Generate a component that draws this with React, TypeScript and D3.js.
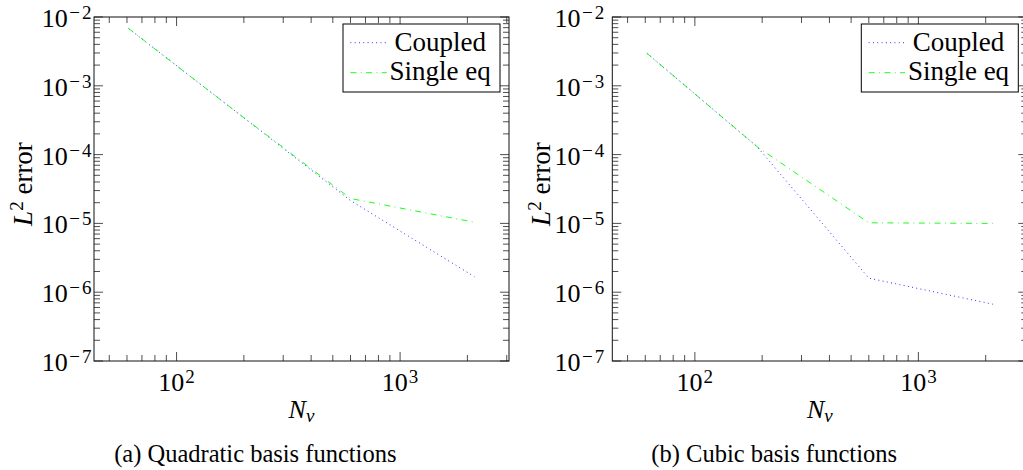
import React from "react";
import * as d3 from "d3";

// ---- data ----
const nv = [61, 190, 600, 2150];
const quadCoupled = [6.8e-3, 3.9e-4, 2.15e-5, 1.68e-6];
const quadSingle = [6.8e-3, 3.9e-4, 2.3e-5, 1.04e-5];
const cubicCoupled = [2.97e-3, 1.3e-4, 1.6e-6, 6.7e-7];
const cubicSingle = [2.97e-3, 1.3e-4, 1.02e-5, 1.0e-5];
const seriesNames = ["Coupled", "Single eq"];
const yTickExps = [-2, -3, -4, -5, -6, -7];
const xTickExps = [2, 3];
const captions = ["(a) Quadratic basis functions", "(b) Cubic basis functions"];
const yDomain = [1e-7, 1e-2];

const FONT = '"Liberation Serif"';

const W = 415;
const TOP = 17;
const BOTTOM = 361;

function logExtent(xs: number[]) {
  const lo = Math.log10(d3.min(xs)!);
  const hi = Math.log10(d3.max(xs)!);
  const e = (hi - lo) * 0.1;
  return [Math.pow(10, lo - e), Math.pow(10, hi + e)];
}

function Plot({ x0, coupled, single, caption, captionX, labelGap }: any) {
  const x1 = x0 + W;
  const xs = d3.scaleLog().domain(logExtent(nv)).range([x0, x1]);
  const ys = d3.scaleLog().domain(yDomain).range([BOTTOM, TOP]);
  const [dx0, dx1] = xs.domain();

  const xMinor: number[] = [];
  for (let k = 0; k <= 4; k++) {
    for (let m = 1; m <= 9; m++) {
      const v = m * Math.pow(10, k);
      if (v >= dx0 && v <= dx1) xMinor.push(v);
    }
  }
  const yMinor: number[] = [];
  for (let k = -7; k <= -3; k++) {
    for (let m = 2; m <= 9; m++) yMinor.push(m * Math.pow(10, k));
  }

  const line = d3
    .line<number>()
    .x((_, i) => xs(nv[i]))
    .y((d) => ys(d));

  const tickStroke = "#222";
  const legW = 157;
  const legX = x1 - 9 - legW;
  const legY = 24;
  const legH = 68;
  const fs = { fontFamily: FONT };

  return (
    <g>
      {/* data lines */}
      <path d={line(coupled)!} fill="none" stroke="#0000ff" strokeWidth={0.9} strokeDasharray="0.9 3.4" />
      <path d={line(single)!} fill="none" stroke="#00ff00" strokeWidth={0.9} strokeDasharray="6 4.4 0.9 4.4" />

      {/* x ticks */}
      {xMinor.map((v, i) => {
        const isMajor = Math.abs(Math.log10(v) - Math.round(Math.log10(v))) < 1e-9;
        const L = isMajor ? 9 : 6;
        const x = xs(v);
        return (
          <g key={"xm" + i}>
            <line x1={x} x2={x} y1={BOTTOM} y2={BOTTOM - L} stroke={tickStroke} strokeWidth={0.8} />
            <line x1={x} x2={x} y1={TOP} y2={TOP + L} stroke={tickStroke} strokeWidth={0.8} />
          </g>
        );
      })}
      {/* y ticks */}
      {yMinor.map((v, i) => {
        const y = ys(v);
        return (
          <g key={"ym" + i}>
            <line x1={x0} x2={x0 + 6} y1={y} y2={y} stroke={tickStroke} strokeWidth={0.8} />
            <line x1={x1} x2={x1 - 6} y1={y} y2={y} stroke={tickStroke} strokeWidth={0.8} />
          </g>
        );
      })}
      {yTickExps.map((e) => {
        const y = ys(Math.pow(10, e));
        return (
          <g key={"yM" + e}>
            <line x1={x0} x2={x0 + 9} y1={y} y2={y} stroke={tickStroke} strokeWidth={0.8} />
            <line x1={x1} x2={x1 - 9} y1={y} y2={y} stroke={tickStroke} strokeWidth={0.8} />
            <text x={x0 - labelGap} y={y + 10} textAnchor="end" style={fs} fontSize={26} fill="#000">
              10
              <tspan dy={-8} dx={1.5} fontSize={19}>
                {"\u2212"}
              </tspan>
              <tspan dx={2} fontSize={19}>
                {String(Math.abs(e))}
              </tspan>
            </text>
          </g>
        );
      })}
      {xTickExps.map((e) => {
        const x = xs(Math.pow(10, e));
        return (
          <text key={"xl" + e} x={x} y={BOTTOM + 30} textAnchor="middle" style={fs} fontSize={26} fill="#000">
            10
            <tspan dy={-8} dx={1} fontSize={19}>
              {String(e)}
            </tspan>
          </text>
        );
      })}

      {/* frame */}
      <rect x={x0} y={TOP} width={W} height={BOTTOM - TOP} fill="none" stroke="#111" strokeWidth={1} />

      {/* axis labels */}
      <text x={(x0 + x1) / 2} y={418} textAnchor="middle" style={fs} fontSize={26} fill="#000">
        <tspan fontStyle="italic">N</tspan>
        <tspan fontStyle="italic" fontSize={19} dy={4}>
          v
        </tspan>
      </text>
      <text
        transform={`translate(${x0 - 62.5},${(TOP + BOTTOM) / 2 - 5}) rotate(-90)`}
        textAnchor="middle"
        style={fs}
        fontSize={27}
        fill="#000"
      >
        <tspan fontStyle="italic">L</tspan>
        <tspan fontSize={19} dy={-9}>
          2
        </tspan>
        <tspan dy={9}> error</tspan>
      </text>

      {/* legend */}
      <rect x={legX} y={legY} width={legW} height={legH} fill="#fff" stroke="#000" strokeWidth={1} />
      <line x1={legX + 7.4} x2={legX + 43.7} y1={legY + 18.7} y2={legY + 18.7} stroke="#0000ff" strokeWidth={0.9} strokeDasharray="0.9 3.4" />
      <line x1={legX + 7.4} x2={legX + 43.7} y1={legY + 48.7} y2={legY + 48.7} stroke="#00ff00" strokeWidth={0.9} strokeDasharray="6 4.4 0.9 4.4" />
      <text x={legX + 97.2} y={legY + 27} textAnchor="middle" style={fs} fontSize={27} fill="#000">
        {seriesNames[0]}
      </text>
      <text x={legX + 97.2} y={legY + 56} textAnchor="middle" style={fs} fontSize={27} fill="#000">
        {seriesNames[1]}
      </text>

      {/* caption */}
      <text x={captionX} y={462} textAnchor="middle" style={fs} fontSize={24.5} fill="#000">
        {caption}
      </text>
    </g>
  );
}

export default function App() {
  return (
    <svg
      width={1023}
      height={470}
      style={{ position: "absolute", left: 0, top: 0, background: "#fff" }}
    >
      <rect x={0} y={0} width={1023} height={470} fill="#fff" />
      <Plot x0={94} coupled={quadCoupled} single={quadSingle} caption={captions[0]} captionX={255.3} labelGap={2.5} />
      <Plot x0={612.3} coupled={cubicCoupled} single={cubicSingle} caption={captions[1]} captionX={774.2} labelGap={8} />
    </svg>
  );
}
